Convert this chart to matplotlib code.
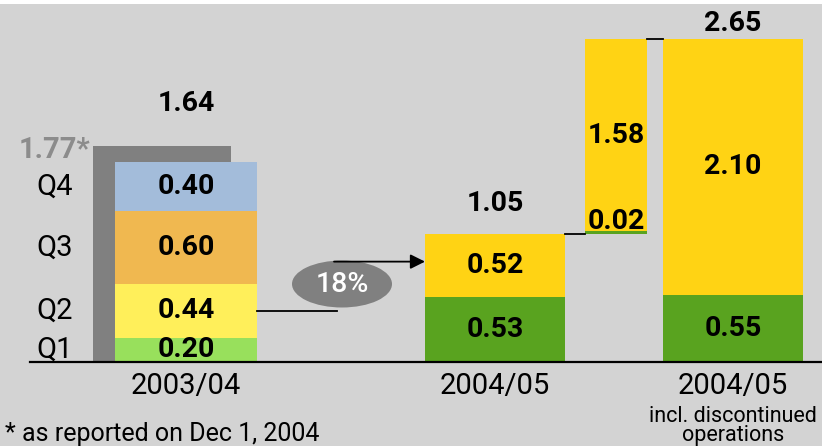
import numpy as np
import matplotlib
matplotlib.use("Agg")
import matplotlib.pyplot as plt
from matplotlib.patches import Ellipse

# ---------------------------------------------------------------------------
# Data
# ---------------------------------------------------------------------------
CATEGORIES = ["2003/04", "2004/05", "2004/05"]
SUBTITLE = "incl. discontinued\noperations"
QUARTERS = ["Q1", "Q2", "Q3", "Q4"]
Q_VALUES_0304 = [0.20, 0.44, 0.60, 0.40]
TOTAL_0304 = 1.64
REPORTED_0304 = 1.77
CONT_0405 = [0.53, 0.52]        # green, yellow
TOTAL_0405 = 1.05
DISC_0405 = [0.02, 1.58]        # green, yellow (floating step)
INCL_0405 = [0.55, 2.10]        # green, yellow
TOTAL_INCL = 2.65
GROWTH = "18%"
FOOTNOTE = "* as reported on Dec 1, 2004"

# ---------------------------------------------------------------------------
# Style / layout
# ---------------------------------------------------------------------------
BG = "#d3d3d3"
GREY = "#808080"
Q_COLORS = ["#98e05c", "#ffef5a", "#f0b850", "#a3bcda"]
YELLOW = "#ffd314"
GREEN = "#59a31f"
FONT = "Roboto"
NUM_SIZE = 20.5

PX = 122.0                  # pixels per unit on y
BASE = 362                  # baseline pixel row (from top)

fig = plt.figure(figsize=(8.22, 4.46), dpi=100, facecolor="white")
ax = fig.add_axes([0, 0, 1, 442 / 446])
ax.set_facecolor(BG)
ax.set_xlim(0, 822)
ax.set_ylim(-(446 - BASE) / PX, (BASE - 4) / PX)
ax.set_xticks([])
ax.set_yticks([])
for s in ax.spines.values():
    s.set_visible(False)

# bar positions (pixel x units)
X_LEFT, W_LEFT = 186, 142
X_SHADOW, W_SHADOW = 162, 138
X_MID, W_MID = 495, 140
X_STEP, W_STEP = 616, 62
X_RIGHT, W_RIGHT = 733, 140

num_kw = dict(fontsize=NUM_SIZE, fontweight="bold", family=FONT, color="black",
              ha="center", va="center", zorder=5)

# 2003/04: shadow bar (as reported) + quarterly stack
ax.bar(X_SHADOW, REPORTED_0304, width=W_SHADOW, color=GREY, linewidth=0, zorder=1)
bottom = 0.0
for q, v, c in zip(QUARTERS, Q_VALUES_0304, Q_COLORS):
    ax.bar(X_LEFT, v, width=W_LEFT, bottom=bottom, color=c, linewidth=0, zorder=2)
    ax.text(X_LEFT, bottom + v / 2, f"{v:.2f}", **num_kw)
    ax.text(55, bottom + v / 2, q, fontsize=21, family=FONT, ha="center",
            va="center", zorder=5)
    bottom += v
ax.text(X_LEFT, REPORTED_0304 + 29 / PX, f"{TOTAL_0304:.2f}", fontsize=NUM_SIZE,
        fontweight="bold", family=FONT, ha="center", va="bottom", zorder=5)
ax.text(X_SHADOW - W_SHADOW / 2 - 3, REPORTED_0304 - 4 / PX, f"{REPORTED_0304:.2f}*",
        fontsize=21, fontweight="bold", family=FONT, color="#8c8c8c",
        ha="right", va="center", zorder=5)

# 2004/05 continuing
bottom = 0.0
for v, c in zip(CONT_0405, [GREEN, YELLOW]):
    ax.bar(X_MID, v, width=W_MID, bottom=bottom, color=c, linewidth=0, zorder=2)
    ax.text(X_MID, bottom + v / 2, f"{v:.2f}", **num_kw)
    bottom += v
ax.text(X_MID, TOTAL_0405 + 17 / PX, f"{TOTAL_0405:.2f}", fontsize=NUM_SIZE,
        fontweight="bold", family=FONT, ha="center", va="bottom", zorder=5)

# floating step: discontinued operations
bottom = TOTAL_0405
for i, (v, c) in enumerate(zip(DISC_0405, [GREEN, YELLOW])):
    ax.bar(X_STEP, v, width=W_STEP, bottom=bottom, color=c, linewidth=0, zorder=2)
    if i == 0:
        ax.text(X_STEP, bottom - 1 / PX, f"{v:.2f}", fontsize=NUM_SIZE,
                fontweight="bold", family=FONT, ha="center", va="bottom",
                zorder=5)
    else:
        ax.text(X_STEP, bottom + v / 2, f"{v:.2f}", **num_kw)
    bottom += v

# 2004/05 incl. discontinued
bottom = 0.0
for v, c in zip(INCL_0405, [GREEN, YELLOW]):
    ax.bar(X_RIGHT, v, width=W_RIGHT, bottom=bottom, color=c, linewidth=0, zorder=2)
    ax.text(X_RIGHT, bottom + v / 2, f"{v:.2f}", **num_kw)
    bottom += v
ax.text(X_RIGHT, TOTAL_INCL + 2 / PX, f"{TOTAL_INCL:.2f}", fontsize=NUM_SIZE,
        fontweight="bold", family=FONT, ha="center", va="bottom", zorder=5)

# connectors
q2_mid = Q_VALUES_0304[0] + Q_VALUES_0304[1] / 2
ax.plot([X_LEFT + W_LEFT / 2, 337], [q2_mid, q2_mid], color="black", lw=1.3, zorder=3)
ax.plot([X_MID + W_MID / 2, X_STEP - W_STEP / 2], [TOTAL_0405, TOTAL_0405],
        color="black", lw=1.3, zorder=3)
ax.plot([X_STEP + W_STEP / 2, X_RIGHT - W_RIGHT / 2], [TOTAL_INCL, TOTAL_INCL],
        color="black", lw=1.3, zorder=3)

# growth ellipse + arrow
ell_y = (BASE - 284) / PX
ax.add_patch(Ellipse((342, ell_y), width=100, height=47 / PX, color=GREY,
                     linewidth=0, zorder=3))
ax.text(342, ell_y, GROWTH, fontsize=20.5, fontweight="medium", family=FONT,
        color="white", ha="center", va="center", zorder=6)
arrow_y = TOTAL_0405 - CONT_0405[1] / 2 + 4 / PX
ax.annotate("", xy=(X_MID - W_MID / 2, arrow_y), xytext=(334, arrow_y),
            arrowprops=dict(arrowstyle="-|>", color="black", lw=1.3,
                            mutation_scale=22, shrinkA=0, shrinkB=0),
            zorder=4)

# baseline
ax.plot([30, 822], [0, 0], color="black", lw=1.6, zorder=4)

# category labels
for x, lab in zip([X_LEFT, X_MID, X_RIGHT], CATEGORIES):
    ax.text(x, -24 / PX, lab, fontsize=21, family=FONT, ha="center",
            va="center", zorder=5)
ax.text(X_RIGHT, -64 / PX, SUBTITLE, fontsize=15.5, family=FONT, ha="center",
        va="center", linespacing=0.9, zorder=5)

# footnote
ax.text(5, -72 / PX, FOOTNOTE, fontsize=18, family=FONT, ha="left",
        va="center", zorder=5)

fig.savefig("out.png", dpi=100, facecolor=fig.get_facecolor())
